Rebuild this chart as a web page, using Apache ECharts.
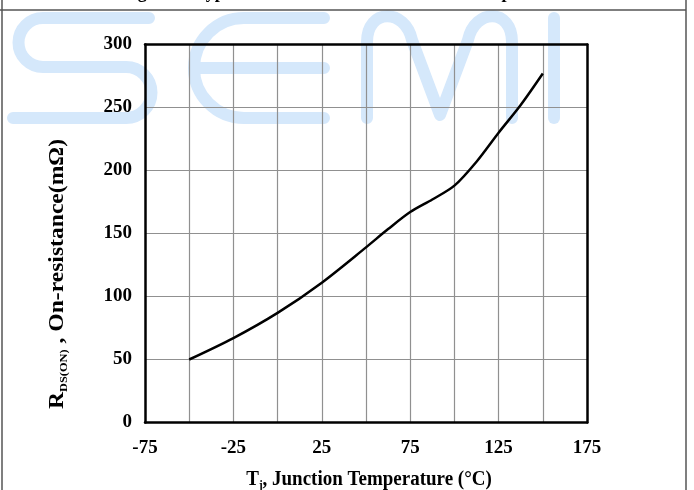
<!DOCTYPE html>
<html><head><meta charset="utf-8">
<script src="https://cdn.jsdelivr.net/npm/echarts@6/dist/echarts.min.js"></script>
<style>html,body{margin:0;padding:0;background:#fff}#c{width:694px;height:490px}</style>
</head><body><div id="c"></div>
<script>
// Data
var temps = [-50, -25, 0, 25, 50, 62.5, 75, 87.5, 100, 112.5, 125, 137.5, 150];
var rdson = [50, 67, 87, 111, 139, 153.5, 167, 177, 188, 207, 230, 252, 277];
var xTicks = [-75, -25, 25, 75, 125, 175];
var yTicks = [0, 50, 100, 150, 200, 250, 300];
var titleText = 'Figure 8. Typical On-Resistance vs. Junction Temperature';
var xTitle = '{n|T}{s|j}{n|, Junction Temperature (\u00B0C)}';
var yTitle = '{n|R}{s|DS(ON)}{n| , On-resistance(m\u03A9)}';

var FONT = 'Liberation Serif';
// watermark glyph shapes (decoration)
echarts.graphic.registerShape('wmS', echarts.graphic.extendPath('M149 18 L43 18 A24.5 24.5 0 0 0 43 67 L126 67 A25.5 25.5 0 0 1 126 118 L13 118'));
echarts.graphic.registerShape('wmE', echarts.graphic.extendPath('M324 18 L244 18 A50 50 0 0 0 244 118 L324 118 M200 68 L324 68'));
echarts.graphic.registerShape('wmM', echarts.graphic.extendPath('M367 118 L367 42 C367 8 405 8 412 40 L440 115 L468 40 C475 8 512 8 512 42 L512 118'));
echarts.graphic.registerShape('wmI', echarts.graphic.extendPath('M554 18 L554 118'));

var chart = echarts.init(document.getElementById('c'), null, {renderer: 'canvas'});
var wm = {stroke: '#d5e8fb', lineWidth: 12, fill: null, lineCap: 'round', lineJoin: 'round'};
var frameLine = {stroke: '#555', lineWidth: 1.5};
var option = {
  backgroundColor: '#fff',
  animation: false,
  grid: {left: 145, right: 107, top: 44.5, bottom: 67.5, show: false},
  xAxis: [{
    type: 'value', min: -75, max: 175, interval: 50,
    axisLine: {show: true, onZero: false, lineStyle: {color: '#000', width: 2.5}},
    axisTick: {show: false},
    axisLabel: {margin: 16, color: '#000', fontFamily: FONT, fontWeight: 'bold', fontSize: 19, lineHeight: 19,
      formatter: function (v) { return xTicks.indexOf(v) >= 0 ? String(v) : ''; }},
    splitLine: {show: true, showMinLine: false, showMaxLine: false, lineStyle: {color: '#909090', width: 1.2}},
    minorTick: {show: false, splitNumber: 2},
    minorSplitLine: {show: true, lineStyle: {color: '#909090', width: 1.2}}
  }, {
    type: 'value', position: 'top', min: -75, max: 175, interval: 50,
    axisLine: {show: true, onZero: false, lineStyle: {color: '#000', width: 2.5}},
    axisTick: {show: false}, axisLabel: {show: false}, splitLine: {show: false}
  }],
  yAxis: [{
    type: 'value', min: 0, max: 300, interval: 50,
    axisLine: {show: true, onZero: false, lineStyle: {color: '#000', width: 2.5}},
    axisTick: {show: false},
    axisLabel: {margin: 13, color: '#000', fontFamily: FONT, fontWeight: 'bold', fontSize: 19,
      formatter: function (v) { return yTicks.indexOf(v) >= 0 ? String(v) : ''; }},
    splitLine: {show: true, showMinLine: false, showMaxLine: false, lineStyle: {color: '#909090', width: 1.2}}
  }, {
    type: 'value', position: 'right', min: 0, max: 300, interval: 50,
    axisLine: {show: true, onZero: false, lineStyle: {color: '#000', width: 2.5}},
    axisTick: {show: false}, axisLabel: {show: false}, splitLine: {show: false}
  }],
  series: [{
    type: 'line', xAxisIndex: 0, yAxisIndex: 0,
    data: temps.map(function (t, i) { return [t, rdson[i]]; }),
    smooth: 0.3, showSymbol: false, symbol: 'none',
    lineStyle: {color: '#000', width: 2.5}, z: 5
  }],
  graphic: [
    {type: 'wmS', z: -10, silent: true, style: wm},
    {type: 'wmE', z: -10, silent: true, style: wm},
    {type: 'wmM', z: -10, silent: true, style: wm},
    {type: 'wmI', z: -10, silent: true, style: wm},
    {type: 'line', z: 50, silent: true, shape: {x1: 0, y1: 10, x2: 686, y2: 10}, style: frameLine},
    {type: 'line', z: 50, silent: true, shape: {x1: 2, y1: 0, x2: 2, y2: 490}, style: frameLine},
    {type: 'line', z: 50, silent: true, shape: {x1: 686, y1: 0, x2: 686, y2: 490}, style: frameLine},
    {type: 'text', z: 50, silent: true, x: 345, y: 2,
      style: {text: titleText, fill: '#000', font: 'bold 18px "' + FONT + '"', align: 'center', verticalAlign: 'bottom'}},
    {type: 'text', z: 50, silent: true, x: 369, y: 480, scaleY: 1.1,
      style: {text: xTitle, fill: '#000', align: 'center', verticalAlign: 'middle',
        rich: {n: {fontFamily: FONT, fontWeight: 'bold', fontSize: 19, lineHeight: 22, fill: '#000'},
               s: {fontFamily: FONT, fontWeight: 'bold', fontSize: 11, lineHeight: 11, verticalAlign: 'bottom', fill: '#000'}}}},
    {type: 'text', z: 50, silent: true, x: 58, y: 274, rotation: Math.PI / 2, scaleX: 1.18,
      style: {text: yTitle, fill: '#000', align: 'center', verticalAlign: 'middle',
        rich: {n: {fontFamily: FONT, fontWeight: 'bold', fontSize: 20, lineHeight: 24, fill: '#000'},
               s: {fontFamily: FONT, fontWeight: 'bold', fontSize: 10.5, lineHeight: 11, verticalAlign: 'bottom', fill: '#000'}}}}
  ]
};
chart.setOption(option);
</script>
</body></html>
